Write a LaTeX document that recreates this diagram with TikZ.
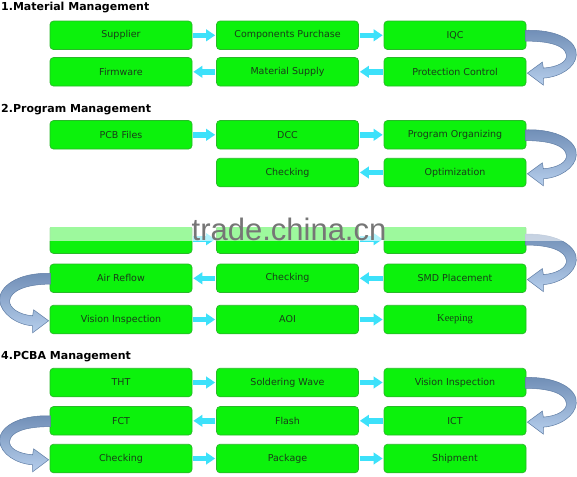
\documentclass[tikz,border=0pt]{standalone}
\usepackage{fontspec}
\setmainfont{DejaVu Sans}
\newfontfamily\stampfont{Liberation Sans}
\newfontfamily\keepfont{Liberation Serif}
\usetikzlibrary{arrows.meta,calc}
\definecolor{boxgreen}{RGB}{12,242,12}
\definecolor{boxline}{RGB}{40,185,40}
\definecolor{boxtext}{RGB}{25,60,25}
\definecolor{flowcyan}{RGB}{60,225,250}
\definecolor{turntop}{RGB}{112,142,182}
\definecolor{turnbot}{RGB}{182,206,236}
\definecolor{turnline}{RGB}{95,125,165}
\definecolor{stampgray}{RGB}{118,118,118}

\tikzset{
	box/.style={draw=boxline, fill=boxgreen, rounded corners=3.5pt, line width=0.7pt, minimum width=142pt, minimum height=28.5pt, inner sep=0pt, text=boxtext, font=\fontsize{9.5}{11}\selectfont},
	flow/.style={flowcyan, line width=5.5pt, -{Triangle[length=9pt,width=11.5pt]}, shorten >=1pt, shorten <=1pt},
	turnarrow/.style={top color=turntop, bottom color=turnbot, draw=turnline, line width=0.5pt},
	title/.style={anchor=base west, inner sep=0pt, font=\bfseries\fontsize{11}{13}\selectfont}
}

\newcommand{\turnright}[2]{%
	\path[turnarrow] ($(#1.east)+(-1,-5)$) .. controls ($(#1.east)+(33,-6)$) and ($(#1.east)!0.5!(#2.east)+(51,-11.5)$) .. ($(#1.east)!0.5!(#2.east)+(50,1.5)$)
	.. controls ($(#1.east)!0.5!(#2.east)+(49,14.5)$) and ($(#2.east)+(33,5.3)$) .. ($(#2.east)+(17,6.3)$)
	-- ($(#2.east)+(17,13.3)$) -- ($(#2.east)+(1,1.3)$) -- ($(#2.east)+(16,-9.7)$) -- ($(#2.east)+(17,-3.7)$)
	.. controls ($(#2.east)+(31,-4.7)$) and ($(#1.east)!0.5!(#2.east)+(41,8.5)$) .. ($(#1.east)!0.5!(#2.east)+(40,1.5)$)
	.. controls ($(#1.east)!0.5!(#2.east)+(39,-7.5)$) and ($(#1.east)+(25,5.8)$) .. ($(#1.east)+(-1,5.8)$) -- cycle;
}
\newcommand{\turnleft}[2]{%
	\path[turnarrow] ($(#1.west)+(1,-5)$) .. controls ($(#1.west)+(-33,-6)$) and ($(#1.west)!0.5!(#2.west)+(-51,-11.5)$) .. ($(#1.west)!0.5!(#2.west)+(-50,1.5)$)
	.. controls ($(#1.west)!0.5!(#2.west)+(-49,14.5)$) and ($(#2.west)+(-33,5.3)$) .. ($(#2.west)+(-17,6.3)$)
	-- ($(#2.west)+(-17,13.3)$) -- ($(#2.west)+(-1,1.3)$) -- ($(#2.west)+(-16,-9.7)$) -- ($(#2.west)+(-17,-3.7)$)
	.. controls ($(#2.west)+(-31,-4.7)$) and ($(#1.west)!0.5!(#2.west)+(-41,8.5)$) .. ($(#1.west)!0.5!(#2.west)+(-40,1.5)$)
	.. controls ($(#1.west)!0.5!(#2.west)+(-39,-7.5)$) and ($(#1.west)+(-25,5.8)$) .. ($(#1.west)+(1,5.8)$) -- cycle;
}

\begin{document}
\begin{tikzpicture}[x=1pt, y=-1pt]
	\useasboundingbox[fill=white] (0,0) rectangle (577,476);

	\node[title] (t1) at (1,11) {1.Material Management};
	\node[box] (sup) at (121,35.3) {Supplier};
	\node[box] (cpur) at (287.5,35.3) {Components Purchase};
	\node[box] (iqc) at (455,35.3) {IQC};
	\node[box] (fw) at (121,71.8) {Firmware};
	\node[box] (msup) at (287.5,71.8) {Material Supply};
	\node[box] (prot) at (455,71.8) {Protection Control};
	\draw[flow] (sup) -- (cpur);
	\draw[flow] (cpur) -- (iqc);
	\draw[flow] (prot) -- (msup);
	\draw[flow] (msup) -- (fw);
	\turnright{iqc}{prot}

	\node[title] (t2) at (1,112) {2.Program Management};
	\node[box] (pcb) at (121,134.8) {PCB Files};
	\node[box] (dcc) at (287.5,134.8) {DCC};
	\node[box] (porg) at (455,134.8) {Program Organizing};
	\node[box] (pchk) at (287.5,172.5) {Checking};
	\node[box] (opt) at (455,172.5) {Optimization};
	\draw[flow] (pcb) -- (dcc);
	\draw[flow] (dcc) -- (porg);
	\draw[flow] (opt) -- (pchk);
	\turnright{porg}{opt}

	\node[box] (s3a) at (121,239.2) {};
	\node[box] (s3b) at (287.5,239.2) {};
	\node[box] (s3c) at (455,239.2) {};
	\node[box] (reflow) at (121,278.3) {Air Reflow};
	\node[box] (schk) at (287.5,278.3) {Checking};
	\node[box] (smd) at (455,278.3) {SMD Placement};
	\node[box] (vis) at (121,319.5) {Vision Inspection};
	\node[box] (aoi) at (287.5,319.5) {AOI};
	\node[box] (keep) at (455,319.5) {\keepfont\fontsize{10.5}{12}\selectfont Keeping};
	\draw[flow] (s3a) -- (s3b);
	\draw[flow] (s3b) -- (s3c);
	\draw[flow] (smd) -- (schk);
	\draw[flow] (schk) -- (reflow);
	\draw[flow] (vis) -- (aoi);
	\draw[flow] (aoi) -- (keep);
	\turnright{s3c}{smd}
	\turnleft{reflow}{vis}
	\fill[white] (0,192) rectangle (577,227);
	\fill[white, opacity=0.6] (0,227) rectangle (577,240.5);
	\node[text=stampgray, anchor=base, inner sep=0pt, font=\stampfont\fontsize{31}{31}\selectfont] (stamp) at (289,240) {trade.china.cn};

	\node[title] (t4) at (1,359) {4.PCBA Management};
	\node[box] (tht) at (121,382.5) {THT};
	\node[box] (wave) at (287.5,382.5) {Soldering Wave};
	\node[box] (vins) at (455,382.5) {Vision Inspection};
	\node[box] (fct) at (121,420.8) {FCT};
	\node[box] (flash) at (287.5,420.8) {Flash};
	\node[box] (ict) at (455,420.8) {ICT};
	\node[box] (fchk) at (121,458.5) {Checking};
	\node[box] (pack) at (287.5,458.5) {Package};
	\node[box] (ship) at (455,458.5) {Shipment};
	\draw[flow] (tht) -- (wave);
	\draw[flow] (wave) -- (vins);
	\draw[flow] (ict) -- (flash);
	\draw[flow] (flash) -- (fct);
	\draw[flow] (fchk) -- (pack);
	\draw[flow] (pack) -- (ship);
	\turnright{vins}{ict}
	\turnleft{fct}{fchk}
\end{tikzpicture}
\end{document}
